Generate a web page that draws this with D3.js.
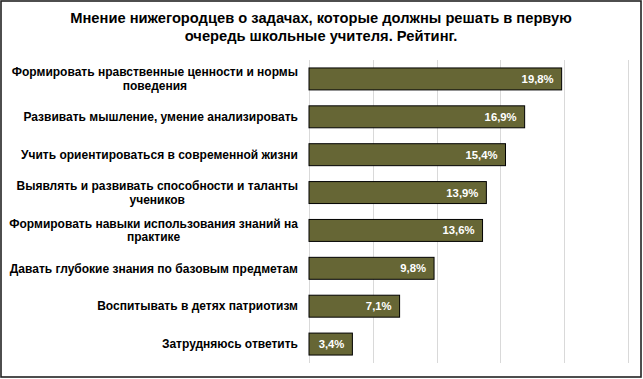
<!DOCTYPE html>
<html><head><meta charset="utf-8">
<script src="https://cdn.jsdelivr.net/npm/d3@7/dist/d3.min.js"></script>
<style>
html,body{margin:0;padding:0;background:#fff;}
svg text{font-family:"Liberation Sans",Arial,sans-serif;font-weight:bold;}
</style></head>
<body><svg id="c" width="643" height="379"></svg>
<script>
const titleLines = ["Мнение нижегородцев о задачах, которые должны решать в первую", "очередь школьные учителя. Рейтинг."];
const categories = [
  ["Формировать нравственные ценности и нормы", "поведения"],
  ["Развивать мышление, умение анализировать"],
  ["Учить ориентироваться в современной жизни"],
  ["Выявлять и развивать способности и таланты", "учеников"],
  ["Формировать навыки использования знаний на", "практике"],
  ["Давать глубокие знания по базовым предметам"],
  ["Воспитывать в детях патриотизм"],
  ["Затрудняюсь ответить"]
];
const values = [19.8, 16.9, 15.4, 13.9, 13.6, 9.8, 7.1, 3.4];
const xTicks = [0, 5, 10, 15, 20, 25];

const svg = d3.select("#c");
svg.append("rect").attr("x",1).attr("y",1).attr("width",640).attr("height",376)
  .attr("fill","#fff").attr("stroke","#222").attr("stroke-width",1.6);

svg.selectAll("text.title").data(titleLines).join("text").attr("class","title")
  .attr("x",321).attr("y",(d,i)=>23+i*18).attr("text-anchor","middle")
  .attr("font-size",14.7).attr("fill","#000").text(d=>d);

const x = d3.scaleLinear().domain([0,25]).range([309,628]);
const y = d3.scaleBand().domain(d3.range(categories.length)).range([60,363]).paddingInner(0.42).paddingOuter(0.21);

svg.append("g").selectAll("line").data(xTicks).join("line")
  .attr("x1",d=>Math.round(x(d))+0.5).attr("x2",d=>Math.round(x(d))+0.5)
  .attr("y1",60).attr("y2",363).attr("stroke","#d9d9d9").attr("stroke-width",1);

svg.append("g").selectAll("rect").data(values).join("rect")
  .attr("x",x(0)).attr("y",(d,i)=>y(i)).attr("width",d=>x(d)-x(0)).attr("height",y.bandwidth())
  .attr("fill","#666635").attr("stroke","#000").attr("stroke-width",1);

svg.append("g").selectAll("text").data(values).join("text")
  .attr("x",d=>x(d)-8).attr("y",(d,i)=>y(i)+y.bandwidth()/2).attr("dy","0.35em")
  .attr("text-anchor","end").attr("font-size",11.3).attr("fill","#fff")
  .text(d=>d.toFixed(1).replace(".",",")+"%");

const lg = svg.append("g");
categories.forEach((lines,i)=>{
  const cy = y(i)+y.bandwidth()/2;
  const g = lg.append("g");
  const ts = lines.map((l,j)=>g.append("text").attr("font-size",12).attr("fill","#000")
     .attr("y",cy+(j-(lines.length-1)/2)*13.5).attr("dy","0.35em").text(l));
  const w = d3.max(ts,t=>t.node().getComputedTextLength());
  const right = 298;
  ts.forEach(t=>t.attr("x",right-w/2).attr("text-anchor","middle"));
});
</script></body></html>
